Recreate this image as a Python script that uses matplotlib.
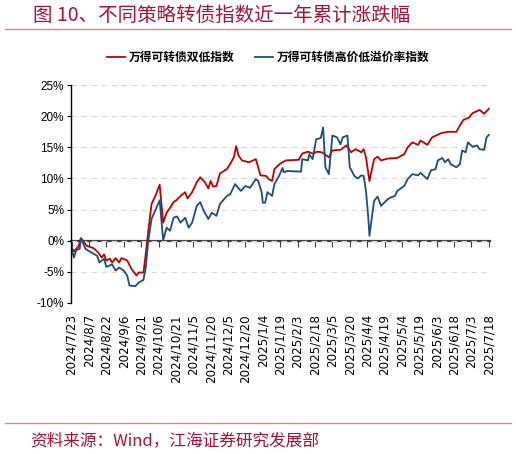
import matplotlib
matplotlib.use("Agg")
import matplotlib.pyplot as plt
import pandas as pd

plt.rcParams['font.family'] = ['Noto Sans CJK SC', 'DejaVu Sans']

start = pd.Timestamp("2024-07-23")

# day offsets from 2024/7/23 and cumulative change (%)
red_days = [0, 2, 4, 6, 8, 10, 13, 16, 19, 23, 26, 28, 30, 33, 35, 38, 41, 43, 46, 48,
            52, 56, 58, 62, 64, 66, 69, 73, 76, 79, 82, 85, 88, 91, 94, 98, 100, 104,
            108, 111, 115, 118, 120, 122, 125, 128, 134, 137, 140, 142, 144, 147, 153,
            159, 163, 168, 170, 173, 175, 180, 185, 196, 199, 204, 208, 212, 216, 222,
            225, 232, 237, 239, 241, 245, 250, 252, 254, 257, 261, 264, 267, 273, 281,
            287, 290, 294, 299, 301, 307, 311, 319, 325, 332, 335, 338, 343, 346, 352,
            356, 360]
red_vals = [-1.1, -1.7, -1.3, -0.9, 0.4, 0.0, -0.8, -1.0, -1.2, -1.9, -2.7, -2.2, -3.2,
            -2.9, -3.5, -2.8, -3.5, -2.8, -3.0, -3.2, -4.6, -5.6, -5.1, -5.1, -2.1, 1.3,
            5.9, 7.5, 9.0, 2.9, 4.5, 5.3, 6.2, 6.6, 7.2, 7.8, 6.8, 7.8, 9.4, 10.2, 9.4,
            8.4, 9.6, 8.7, 8.8, 10.8, 11.5, 12.4, 13.4, 15.2, 13.7, 12.9, 12.6, 13.1,
            10.5, 10.4, 9.9, 9.6, 11.5, 12.4, 12.9, 13.0, 14.0, 14.3, 14.0, 14.3, 14.2,
            13.4, 14.5, 14.6, 15.3, 14.9, 14.2, 14.7, 14.2, 14.7, 13.4, 9.6, 13.1, 13.5,
            12.9, 13.2, 13.3, 13.9, 15.0, 15.8, 15.4, 16.1, 15.4, 16.6, 17.3, 17.5, 17.5,
            18.5, 19.4, 19.8, 20.5, 21.0, 20.4, 21.2]

blue_days = [0, 2, 4, 7, 8, 12, 17, 22, 24, 28, 30, 35, 38, 41, 45, 48, 50, 55, 58, 62,
             64, 66, 69, 76, 79, 82, 85, 88, 91, 94, 98, 101, 104, 108, 111, 114, 118,
             121, 125, 128, 134, 137, 141, 146, 150, 154, 159, 161, 164, 165, 167, 169,
             173, 175, 179, 182, 183, 186, 198, 199, 204, 205, 208, 211, 215, 217, 219,
             222, 225, 229, 232, 234, 238, 240, 244, 247, 250, 252, 254, 256, 257, 261,
             264, 267, 273, 276, 279, 281, 287, 290, 294, 299, 301, 307, 310, 314, 316,
             320, 322, 325, 327, 332, 335, 337, 340, 342, 346, 350, 352, 356, 358, 360]
blue_vals = [-1.3, -2.7, -1.5, -1.3, 0.4, -1.3, -1.9, -2.4, -3.5, -2.9, -4.2, -3.8, -4.8,
             -4.3, -4.8, -5.6, -7.2, -7.3, -6.7, -6.3, -4.3, -0.3, 3.5, 6.5, 0.1, 2.1,
             1.6, 3.7, 3.9, 2.9, 3.7, 2.1, 2.9, 5.6, 6.2, 4.8, 3.5, 4.5, 4.0, 5.9, 7.2,
             7.5, 9.1, 8.0, 8.8, 8.5, 9.9, 9.6, 7.8, 6.1, 6.1, 7.8, 7.2, 9.1, 10.4, 11.7,
             11.0, 11.2, 11.1, 13.1, 12.9, 13.9, 13.1, 16.3, 16.5, 18.2, 11.8, 10.7, 16.9,
             16.6, 15.5, 16.6, 16.9, 11.8, 10.4, 10.0, 10.5, 10.4, 8.0, 3.7, 0.8, 6.4,
             7.1, 5.6, 6.7, 7.0, 7.2, 8.0, 8.8, 9.9, 10.7, 10.5, 10.9, 9.9, 11.3, 11.5,
             12.9, 13.3, 12.6, 13.1, 12.3, 11.8, 12.3, 14.5, 14.2, 15.8, 15.1, 15.3, 14.7,
             14.6, 16.6, 17.0]

red_name = "万得可转债双低指数"
blue_name = "万得可转债高价低溢价率指数"
title = "图 10、不同策略转债指数近一年累计涨跌幅"
source = "资料来源：Wind，江海证券研究发展部"

y_ticks = [-10, -5, 0, 5, 10, 15, 20, 25]

red_x = start + pd.to_timedelta(red_days, unit="D")
blue_x = start + pd.to_timedelta(blue_days, unit="D")
tick_dates = pd.date_range(start, periods=25, freq="15D")
tick_labels = [f"{d.year}/{d.month}/{d.day}" for d in tick_dates]

dark_red = "#a6123a"
num_font = ['Liberation Sans Narrow', 'Liberation Sans', 'DejaVu Sans']

fig = plt.figure(figsize=(5.16, 4.54), dpi=100)
ax = fig.add_axes([0.1376, 0.3326, 0.812, 0.480])

ax.plot(red_x, red_vals, color="#c00000", lw=1.3, label=red_name)
ax.plot(blue_x, blue_vals, color="#1f4e79", lw=1.3, label=blue_name)

ax.set_ylim(-10, 25)
ax.set_xlim(start - pd.Timedelta(days=0.5), start + pd.Timedelta(days=361))
ax.set_yticks(y_ticks)
ax.set_yticklabels([f"{v}%" for v in y_ticks], family=num_font, fontsize=8.5)
ax.yaxis.grid(True, ls=(0, (5, 4)), color="#d9d9d9", lw=0.8)
ax.set_axisbelow(True)

for s in ["top", "right", "bottom"]:
    ax.spines[s].set_visible(False)
ax.spines["left"].set_color("black")
ax.spines["left"].set_linewidth(1.0)
ax.tick_params(axis="y", length=3, width=0.8, pad=2)

# labels sit at the bottom of the plot, tick marks on the zero line
ax.set_xticks(tick_dates)
ax.set_xticklabels(tick_labels, rotation=90, family=['DejaVu Sans'], fontsize=8.6)
ax.tick_params(axis="x", length=0, pad=8)

zero_ax = ax.secondary_xaxis(0, transform=ax.transData)
zero_ax.set_xticks(tick_dates)
zero_ax.set_xticklabels([])
zero_ax.spines["bottom"].set_color("#404040")
zero_ax.spines["bottom"].set_linewidth(1.6)
zero_ax.tick_params(axis="x", length=4, width=0.8, color="#404040", direction="out")

leg = fig.legend(loc="center", bbox_to_anchor=(0.52, 0.874), ncol=2, frameon=False,
                 prop={"family": ['Noto Sans CJK SC'], "size": 8.5, "weight": "bold"},
                 handlelength=1.5, handletextpad=0.3, columnspacing=1.8)

fig.text(0.064, 0.966, title, color=dark_red, fontsize=14, va="center", ha="left")
fig.add_artist(plt.Line2D([0.01, 0.99], [0.936, 0.936], color="#d88a8a", lw=1.0))
fig.add_artist(plt.Line2D([0.01, 0.99], [0.068, 0.068], color="#d88a8a", lw=1.0))
fig.text(0.058, 0.030, source, color=dark_red, fontsize=12, va="center", ha="left")

fig.savefig("out.png", dpi=100)
